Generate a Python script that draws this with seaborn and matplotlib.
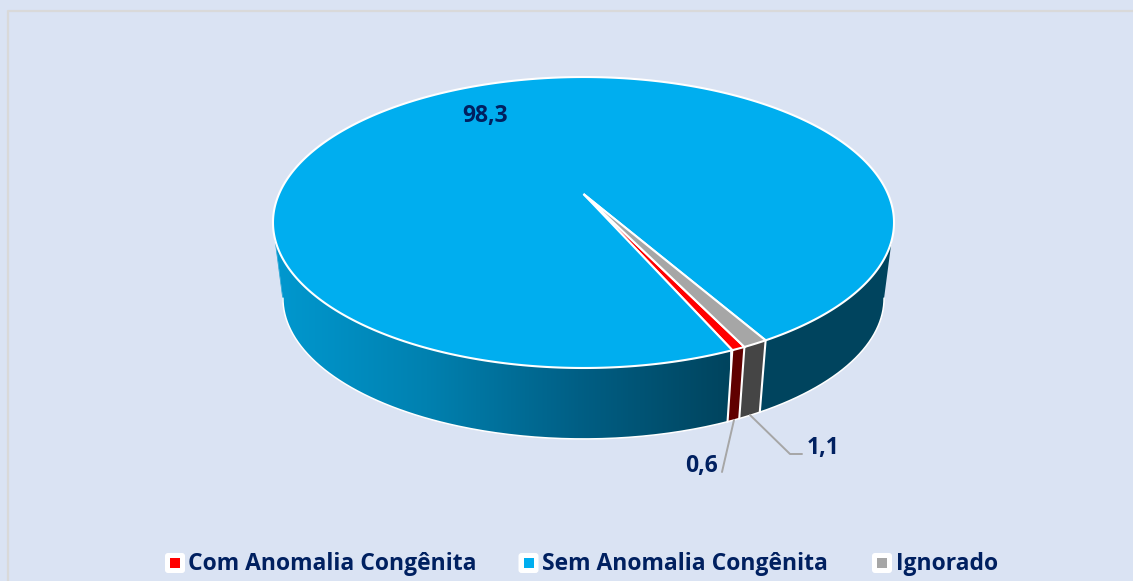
import numpy as np
import matplotlib.pyplot as plt
from matplotlib.colors import ListedColormap
from matplotlib.patches import FancyBboxPatch, Polygon
import seaborn as sns

# --- Data ---
categories = ["Com Anomalia Congênita", "Sem Anomalia Congênita", "Ignorado"]
values = [0.6, 98.3, 1.1]
value_labels = ["0,6", "98,3", "1,1"]

top_colors = ["#FF0000", "#00AEEF", "#A6A6A6"]
wall_colors = ["#600000", None, "#454545"]

# --- Style ---
BG = "#DAE3F3"
INK = "#002060"
WALL_DARK = "#00445E"
sns.set_theme(style="white")
plt.rcParams["font.family"] = ["Open Sans", "DejaVu Sans"]

# perspective of the disc, in pixels of the 1133x581 picture
CX, APEX_Y, SX = 583.5, 194.0, 304.5
A, C = -101.9, 0.1959
START = -64.2  # degrees, slices run clockwise
WALL_LIMIT = np.degrees(np.arcsin(C))


def top_xy(theta):
    t = np.radians(theta)
    u, v = np.cos(t), np.sin(t)
    return CX + SX * u / (1 + C * v), (APEX_Y + A * v) / (1 + C * v)


def bottom_xy(theta):
    x, y = top_xy(theta)
    return CX + 0.968 * (x - CX), 270.5 + 0.968 * (y - APEX_Y)


def wall_outline(a1, a2):
    """Polygon of the slice side between angles a1 > a2."""
    ths = np.linspace(a1, a2, max(int((a1 - a2) * 2), 2))
    xt, yt = top_xy(ths)
    xb, yb = bottom_xy(ths[::-1])
    return np.column_stack([np.r_[xt, xb], np.r_[yt, yb]])


fig = plt.figure(figsize=(11.33, 5.81), dpi=100, facecolor=BG)
ax = fig.add_axes([0, 0, 1, 1])

# chart frame, only top and left show in the crop
ax.plot([8, 8, 1133], [581, 11, 11], color="#D9D9D9", lw=1.6, zorder=1)

# slice angles from the values
edges = START - np.r_[0, np.cumsum(values)] / 100 * 360
right_limit, left_limit = -WALL_LIMIT, -180 + WALL_LIMIT

# side of the big slice: shaded part on the left, flat part on the right
cmap = ListedColormap(sns.blend_palette(["#0098CF", "#0081B0", "#005F85", WALL_DARK], 256))
shade = np.linspace(0, 1, 256)[None, :]
img = ax.imshow(shade, cmap=cmap, extent=(275, 730, 460, 200), aspect="auto", zorder=2)
left_wall = Polygon(wall_outline(edges[1], left_limit), closed=True, transform=ax.transData)
img.set_clip_path(left_wall)
# imshow stops at x=275, the sliver left of it gets the first colour
ax.fill(*wall_outline(left_limit + 3, left_limit).T, color="#0098CF", lw=0, zorder=2)
ax.fill(*wall_outline(right_limit, edges[2] + 360).T, color=WALL_DARK, lw=0, zorder=2)

# sides of the two small slices
ax.fill(*wall_outline(edges[0], edges[1]).T, color=wall_colors[0], lw=0, zorder=2)
ax.fill(*wall_outline(edges[2] + 360, edges[3] + 360).T, color=wall_colors[2], lw=0, zorder=2)

# wall outline
th = np.linspace(left_limit, right_limit, 300)
ax.plot(*bottom_xy(th), color="white", lw=1.1, zorder=3)
for t in [edges[0], edges[1], edges[2] + 360]:
    xt, yt = top_xy(t)
    xb, yb = bottom_xy(t)
    ax.plot([xt, xb], [yt, yb], color="white", lw=1.5, zorder=3)

# top of the pie
for i in range(len(values)):
    ths = np.linspace(edges[i], edges[i + 1], max(int(values[i] * 8), 8))
    xs, ys = top_xy(ths)
    ax.fill(np.r_[CX, xs], np.r_[APEX_Y, ys], facecolor=top_colors[i],
            edgecolor="white", lw=1.5, joinstyle="miter", zorder=4)

# leader lines
ax.plot([734, 722], [420, 472], color="#A6A6A6", lw=1.4, zorder=5)
ax.plot([750, 790, 802], [415, 454, 454], color="#A6A6A6", lw=1.4, zorder=5)

# value labels
label_pos = [(701, 466), (485, 116), (823, 448)]
for (x, y), txt in zip(label_pos, value_labels):
    ax.text(x, y, txt, color=INK, fontsize=16.5, fontweight="bold",
            ha="center", va="center", zorder=6)

# legend
legend_x = [175, 528.5, 882]
for x, name, col in zip(legend_x, categories, top_colors):
    ax.add_patch(FancyBboxPatch((x - 8, 555), 16, 16, boxstyle="round,pad=2,rounding_size=3",
                                fc="white", ec="none", zorder=5))
    ax.fill([x - 5, x + 5, x + 5, x - 5], [558, 558, 567.5, 567.5], color=col, lw=0, zorder=6)
    ax.text(x + 13.5, 563.5, name, color=INK, fontsize=16.5, fontweight="bold",
            ha="left", va="center", zorder=6)

ax.set_xlim(0, 1133)
ax.set_ylim(581, 0)
ax.axis("off")

fig.savefig("out.png", dpi=100, facecolor=BG)
